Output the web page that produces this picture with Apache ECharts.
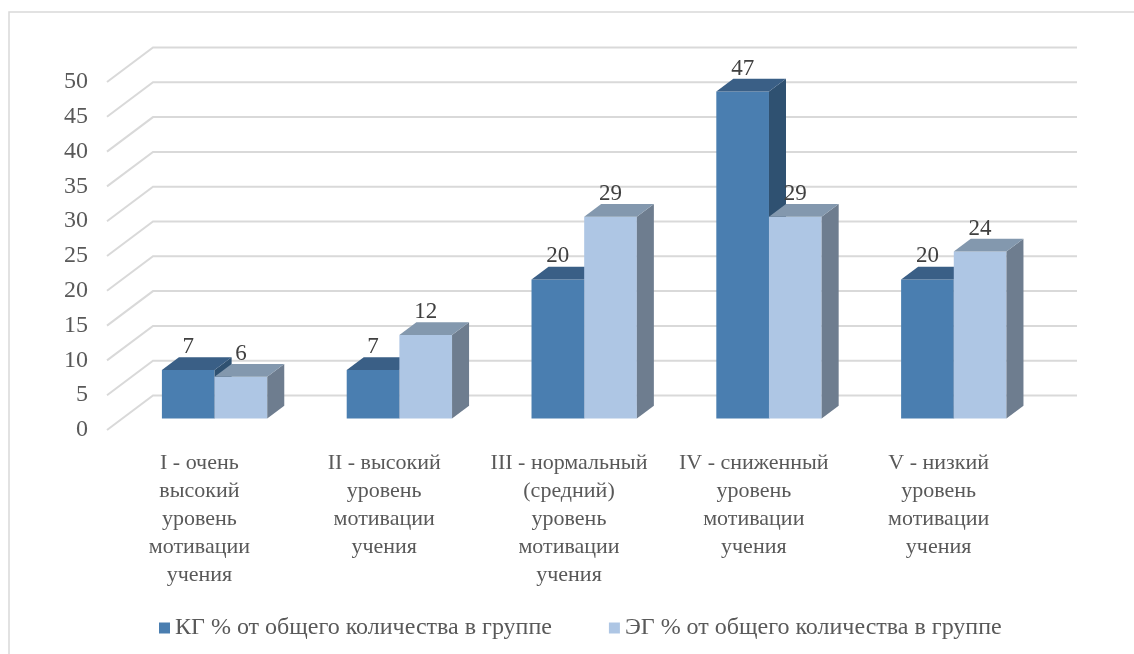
<!DOCTYPE html>
<html>
<head>
<meta charset="utf-8">
<script src="https://cdn.jsdelivr.net/npm/echarts@6/dist/echarts.min.js"></script>
<style>
  html, body { margin: 0; padding: 0; background: #ffffff; }
  #chart { width: 1134px; height: 654px; }
</style>
</head>
<body>
<div id="chart"></div>
<script>
// Уровни мотивации учения
const categories = [
  'I - очень\nвысокий\nуровень\nмотивации\nучения',
  'II - высокий\nуровень\nмотивации\nучения',
  'III - нормальный\n(средний)\nуровень\nмотивации\nучения',
  'IV - сниженный\nуровень\nмотивации\nучения',
  'V - низкий\nуровень\nмотивации\nучения'
];
const seriesNames = [
  'КГ % от общего количества в группе',
  'ЭГ % от общего количества в группе'
];
const kgValues = [7, 7, 20, 47, 20];
const egValues = [6, 12, 29, 29, 24];
const yTicks = [0, 5, 10, 15, 20, 25, 30, 35, 40, 45, 50];

// depth of the 3D box (front floor edge -> back wall)
const DX = 46, DY = -34.5;
const BAR_FRONT = 0.33;   // bars' front face position inside the depth
const BAR_DEPTH = 0.37;   // bar thickness as part of the depth
const BAR_WIDTH = 0.285;  // each bar's width as part of a category band
const FONT = '"Liberation Serif", "Times New Roman", serif';

const palette = {
  kg: { front: '#4a7eb0', top: '#3a5f86', side: '#2f5171' },
  eg: { front: '#aec6e4', top: '#8398ae', side: '#6e7d8f' }
};

function gridWall(params, api) {
  const cs = params.coordSys;
  const y = api.coord([0, api.value(1)])[1];
  const x0 = cs.x, x1 = cs.x + cs.width;
  return {
    type: 'polyline',
    silent: true,
    shape: { points: [[x0, y], [x0 + DX, y + DY], [x1 + DX, y + DY]] },
    style: { stroke: '#d9d9d9', lineWidth: 2, fill: null }
  };
}

function boxBar(leftSide, colors) {
  return function (params, api) {
    const i = api.value(0), v = api.value(1);
    const base = api.coord([i, 0]);
    const top = api.coord([i, v]);
    const w = api.size([1, 0])[0] * BAR_WIDTH;
    const sx = DX * BAR_FRONT, sy = DY * BAR_FRONT;
    const ddx = DX * BAR_DEPTH, ddy = DY * BAR_DEPTH;
    const x0 = base[0] + sx + (leftSide ? -w : 0);
    const yB = base[1] + sy, yT = top[1] + sy;
    return {
      type: 'group',
      children: [
        { type: 'rect', shape: { x: x0, y: yT, width: w, height: yB - yT },
          style: { fill: colors.front } },
        { type: 'polygon',
          shape: { points: [[x0 + w, yT], [x0 + w + ddx, yT + ddy], [x0 + w + ddx, yB + ddy], [x0 + w, yB]] },
          style: { fill: colors.side } },
        { type: 'polygon',
          shape: { points: [[x0, yT], [x0 + w, yT], [x0 + w + ddx, yT + ddy], [x0 + ddx, yT + ddy]] },
          style: { fill: colors.top } },
        { type: 'text', x: x0 + w / 2, y: yT - 23,
          style: { text: String(v), fill: '#404040', fontSize: 23, fontFamily: FONT,
                   align: 'center', verticalAlign: 'middle' } }
      ]
    };
  };
}

const chart = echarts.init(document.getElementById('chart'), null, { renderer: 'canvas' });
chart.setOption({
  animation: false,
  backgroundColor: '#ffffff',
  graphic: [{
    type: 'rect', silent: true,
    shape: { x: 9, y: 12, width: 1140, height: 660 },
    style: { fill: null, stroke: '#d9d9d9', lineWidth: 1.5 }
  }],
  grid: { left: 107, right: 103, top: 82, bottom: 224 },
  xAxis: {
    type: 'category',
    data: categories,
    axisLine: { show: false },
    axisTick: { show: false },
    splitLine: { show: false },
    axisLabel: {
      interval: 0, margin: 19, color: '#595959',
      fontSize: 22, lineHeight: 28, fontFamily: FONT, align: 'center'
    }
  },
  yAxis: {
    type: 'value', min: 0, max: 50, interval: 5,
    axisLine: { show: false },
    axisTick: { show: false },
    splitLine: { show: false },
    axisLabel: { margin: 19, color: '#595959', fontSize: 24, fontFamily: FONT }
  },
  legend: {
    data: seriesNames,
    left: 154, top: 611,
    icon: 'rect', itemWidth: 11, itemHeight: 11, itemGap: 57,
    textStyle: { color: '#595959', fontSize: 24, fontFamily: FONT }
  },
  series: [
    {
      type: 'custom', name: 'wall', z: 1, silent: true,
      renderItem: gridWall,
      data: yTicks.map(v => [0, v]),
      encode: { x: 0, y: 1 }
    },
    {
      type: 'custom', name: seriesNames[0], z: 2,
      itemStyle: { color: palette.kg.front },
      renderItem: boxBar(true, palette.kg),
      data: kgValues.map((v, i) => [i, v]),
      encode: { x: 0, y: 1 }
    },
    {
      type: 'custom', name: seriesNames[1], z: 3,
      itemStyle: { color: palette.eg.front },
      renderItem: boxBar(false, palette.eg),
      data: egValues.map((v, i) => [i, v]),
      encode: { x: 0, y: 1 }
    }
  ]
});
</script>
</body>
</html>
